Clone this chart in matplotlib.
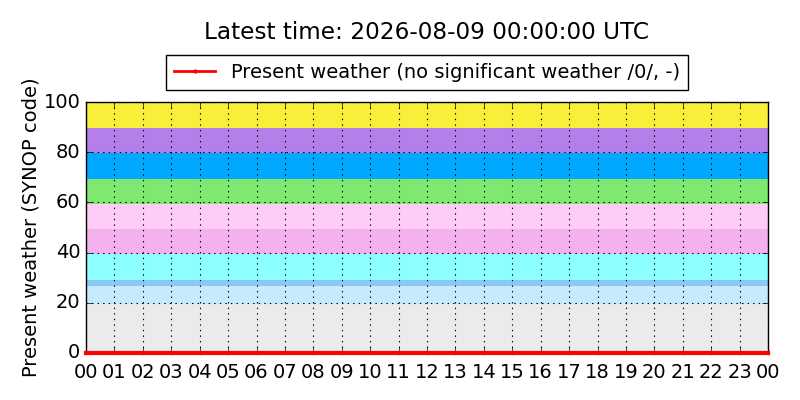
import matplotlib
matplotlib.use('Agg')
import matplotlib.pyplot as plt
import numpy as np
import datetime as dt
import matplotlib.dates as mdates

plt.style.use('classic')

# hourly observations for the day, all "no significant weather"
start = dt.datetime(2026, 8, 9, 0, 0)
hours = [start + dt.timedelta(hours=h) for h in range(25)]
ww_values = [0] * 25

# background bands for SYNOP code groups
band_lower = [0, 19.5, 26.5, 29, 39.5, 49.5, 59.5, 69.5, 79.8, 89.5]
band_upper = [19.5, 26.5, 29, 39.5, 49.5, 59.5, 69.5, 79.8, 89.5, 100]
band_colors = ['#ebebeb', '#c8eaff', '#8cc8f4', '#8cffff', '#f5b0ee',
               '#ffccf7', '#7ee870', '#00a8ff', '#b47fe8', '#f7ef3a']

fig, ax = plt.subplots(figsize=(8, 4), dpi=100)
fig.patch.set_facecolor('white')

for lo, hi, c in zip(band_lower, band_upper, band_colors):
    ax.axhspan(lo, hi, color=c, lw=0, zorder=0)

ax.plot(hours, ww_values, color='red', lw=3, marker='.', markersize=4,
        mec='red', label='Present weather (no significant weather /0/, -)',
        clip_on=False, zorder=3)

ax.set_xlim(hours[0], hours[-1])
ax.set_ylim(0, 100)
ax.xaxis.set_major_locator(mdates.HourLocator())
ax.xaxis.set_major_formatter(mdates.DateFormatter('%H'))
ax.tick_params(labelsize=14)
ax.tick_params(axis='x', pad=7)
ax.grid(True, color='black', linestyle=':', linewidth=0.8)
ax.set_axisbelow(False)
ax.set_ylabel('Present weather (SYNOP code)', fontsize=14, labelpad=2)
ax.set_title('Latest time: 2026-08-09 00:00:00 UTC', fontsize=16.7, y=1.225)
leg = ax.legend(loc='lower center', bbox_to_anchor=(0.5, 1.025), fontsize=14,
                numpoints=1, handlelength=2.1, borderaxespad=0.3)
for h in leg.get_lines():
    h.set_linewidth(2)
    h.set_markersize(5)

plt.subplots_adjust(left=0.1075, right=0.96, top=0.745, bottom=0.1175)
plt.savefig('out.png', dpi=100)
